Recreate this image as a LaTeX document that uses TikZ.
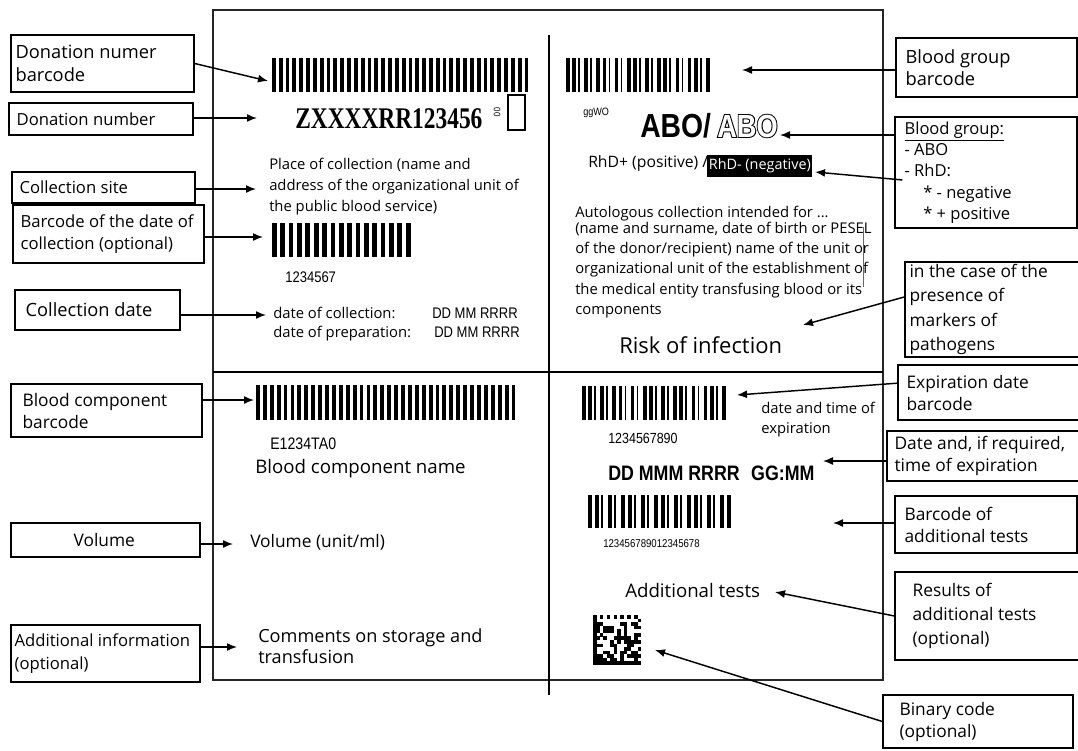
\documentclass[tikz,border=0pt]{standalone}
\usepackage{fontspec}
\setmainfont{Open Sans}
\newfontfamily\narrowf[FakeStretch=0.85]{Liberation Sans}
\newfontfamily\narrowheavy[FakeStretch=0.85,FakeBold=6]{Liberation Sans}
\newfontfamily\serifn[FakeStretch=0.78]{Liberation Serif}
\usetikzlibrary{arrows.meta}

\newcommand\fs[2]{\fontsize{#1}{#2}\selectfont}

% label box: name, x0, y0, x1, y1, left padding, text options, text  (pixel units)
\newcommand\lbox[8]{%
  \pgfmathsetmacro\lbw{(#4-#2)*0.75}%
  \pgfmathsetmacro\lbh{(#5-#3)*0.75}%
  \pgfmathsetmacro\lbp{#6*0.75}%
  \node[lblframe, minimum width=\lbw pt, minimum height=\lbh pt] (#1) at ({(#2+#4)/2},{(#3+#5)/2}) {};
  \node[lbltext, #7] (#1t) at ([xshift=\lbp pt]#1.west) {#8};}

% barcode: x0, y0, x1, y1, number of bars, varied (0/1)
\newcommand\mybarcode[6]{%
  \pgfmathsetmacro\bcpitch{(#3-#1)/(#5-0.5)}%
  \foreach \i in {1,...,#5}{%
    \pgfmathsetmacro\bcw{\bcpitch*(#6==1 ? (mod(\i*7,5)<2 ? 0.28 : 0.62) : 0.56)}%
    \fill ({#1+(\i-1)*\bcpitch},#2) rectangle ++(\bcw,{#4-#2});%
  }}

\begin{document}
\begin{tikzpicture}[x=0.75pt,y=-0.75pt,
  lblframe/.style={draw, line width=1pt, inner sep=0pt},
  lbltext/.style={anchor=west, align=left, inner sep=0pt, font=\fs{13}{16.5}},
  arr/.style={-{Latex[length=7.5pt,width=6pt]}, line width=1.1pt},
  t/.style={anchor=base west, inner sep=0pt}]

\fill[white] (0,0) rectangle (1078,750);
\useasboundingbox (0,0) rectangle (1078,750);

% ---------- the label card ----------
\draw[line width=1.4pt, draw=black!85] (213,10) rectangle (883,680);
\draw[line width=1.1pt] (213,372) -- (883,372);
\draw[line width=1.1pt] (549,35) -- (549,695);

% ---------- top left quadrant ----------
\mybarcode{272}{58}{528}{92}{38}{0}
\node[t, font=\serifn\bfseries\fs{22.5}{27}] (dn) at (295,128) {ZXXXXRR123456};
\node[inner sep=0pt, font=\narrowf\fs{7}{8}, rotate=-90] (dn0) at (497,112) {00};
\node[draw, line width=0.9pt, inner sep=0pt, minimum width=12.75pt, minimum height=26.25pt] (dnbox) at (516.5,112.5) {};
\node[t, font=\fs{11.1}{13}] (pc1) at (269,169) {Place of collection (name and};
\node[t, font=\fs{11.1}{13}] (pc2) at (269,190) {address of the organizational unit of};
\node[t, font=\fs{11.1}{13}] (pc3) at (269,211) {the public blood service)};
\mybarcode{272}{223}{410}{257}{17}{0}
\node[t, font=\narrowf\fs{11.5}{13}] (c7) at (285,282) {1234567};
\node[t, font=\fs{11.1}{13}] (dc) at (273,318) {date of collection:};
\node[t, font=\fs{11.1}{13}] (dp) at (273,337) {date of preparation:};
\node[t, font=\narrowf\fs{11.5}{13}] (dc2) at (432,318) {DD MM RRRR};
\node[t, font=\narrowf\fs{11.5}{13}] (dp2) at (434,337) {DD MM RRRR};

% ---------- top right quadrant ----------
\mybarcode{566}{58}{709}{92}{24}{1}
\node[t, font=\narrowf\fs{8}{9}] (gg) at (583,115) {ggWO};
\node[t, font=\narrowf\bfseries\fs{25}{30}] (abo1) at (640,137) {ABO/};
\node[t, font=\narrowheavy\bfseries\fs{24}{29}] (abo2) at (717,137) {ABO};
\node[t, font=\narrowf\bfseries\fs{24}{29}, text=white] (abo3) at (abo2.base west) {ABO};
\node[t, font=\fs{11.8}{14}] (rhp) at (588,167) {RhD+ (positive) /};
\node[fill=black, text=white, inner xsep=1.2pt, inner ysep=0pt, minimum height=16.5pt,
      anchor=west, font=\fs{10.8}{13}] (rhn) at (707,166) {RhD- (negative)};
\node[t, font=\fs{11.1}{13}] (au1) at (575,217) {Autologous collection intended for ...};
\node[t, font=\fs{11.1}{13}] (au2) at (575,233) {(name and surname, date of birth or PESEL};
\node[t, font=\fs{11.1}{13}] (au3) at (575,253) {of the donor/recipient) name of the unit or};
\node[t, font=\fs{11.1}{13}] (au4) at (575,273) {organizational unit of the establishment of};
\node[t, font=\fs{11.1}{13}] (au5) at (575,294) {the medical entity transfusing blood or its};
\node[t, font=\fs{11.1}{13}] (au6) at (575,314) {components};
\draw[line width=0.6pt, black!60] (863,227) -- (863,287);
\node[t, font=\fs{16.5}{20}] (risk) at (619,353) {Risk of infection};

% ---------- bottom left quadrant ----------
\mybarcode{256}{385}{515}{420}{38}{0}
\node[t, font=\narrowf\fs{12.5}{14}] (e12) at (270,449) {E1234TA0};
\node[t, font=\fs{14}{17}] (bcn) at (255,473) {Blood component name};
\node[t, font=\fs{13}{16}] (vol) at (250,547) {Volume (unit/ml)};
\node[t, font=\fs{13.6}{16}] (cm1) at (258,642) {Comments on storage and};
\node[t, font=\fs{13.6}{16}] (cm2) at (258,663) {transfusion};

% ---------- bottom right quadrant ----------
\mybarcode{582}{386}{725}{420}{24}{1}
\node[t, font=\narrowf\fs{11}{13}] (n10) at (608,443) {1234567890};
\node[t, font=\fs{11.1}{13}] (dt1) at (761,413) {date and time of};
\node[t, font=\fs{11.1}{13}] (dt2) at (761,433) {expiration};
\node[t, font=\narrowf\bfseries\fs{15.7}{19}] (ddm) at (608,480) {DD MMM RRRR\hspace{0.55em}GG:MM};
\mybarcode{588}{495}{730}{528}{22}{1}
\node[t, font=\narrowf\fs{8.5}{10}] (n18) at (603,547) {123456789012345678};
\node[t, font=\fs{14}{17}] (adt) at (625,597) {Additional tests};
% 2D code
\pgfmathsetseed{4242}
\foreach \i in {0,...,13}{\foreach \j in {0,...,13}{%
  \pgfmathsetmacro\on{(\i==0 || \j==13) ? 1 : ((\j==0) ? (mod(\i,2)==0 ? 1 : 0) : ((\i==13) ? (mod(\j,2)==1 ? 1 : 0) : (rnd<0.5 ? 1 : 0)))}%
  \ifdim\on pt>0.5pt \fill ({593+\i*3.43},{615+\j*3.57}) rectangle ++(3.6,3.75);\fi
}}

% ---------- left labels ----------
\lbox{L1}{11}{35}{194}{92}{5}{font=\fs{13.7}{17.3}}{Donation numer\\barcode}
\lbox{L2}{9}{103}{193}{135}{8}{font=\fs{12.5}{16}}{Donation number}
\lbox{L3}{12}{172}{195}{203}{8}{font=\fs{12.5}{16}}{Collection site}
\lbox{L4}{13}{205}{204}{263}{8}{font=\fs{12.5}{16.5}}{Barcode of the date of\\collection (optional)}
\lbox{L5}{15}{290}{180}{330}{11}{font=\fs{13.7}{17}}{Collection date}
\lbox{L6}{11}{384}{202}{437}{12}{}{Blood component\\barcode}
\lbox{L7}{11}{523}{200}{557}{63}{}{Volume}
\lbox{L8}{11}{625}{200}{682}{4}{font=\fs{12.5}{17}}{Additional information\\(optional)}

% ---------- right labels ----------
\lbox{R1}{896}{38}{1077}{97}{10}{font=\fs{13.7}{16.5}}{Blood group\\barcode}
\lbox{R2}{895}{117}{1077}{228}{10}{font=\fs{12.4}{16}}{\underline{Blood group:}\\- ABO\\- RhD:\\\hspace*{14pt}* - negative\\\hspace*{14pt}* + positive}
\lbox{R3}{905}{262}{1082}{357}{5}{font=\fs{13}{18.4}}{in the case of the\\presence of\\markers of\\pathogens}
\lbox{R4}{898}{365}{1082}{420}{9}{}{Expiration date\\barcode}
\lbox{R5}{887}{431}{1082}{481}{8}{}{Date and, if required,\\time of expiration}
\lbox{R6}{895}{496}{1077}{553}{10}{}{Barcode of\\additional tests}
\lbox{R7}{895}{572}{1082}{660}{18}{font=\fs{13}{18}}{Results of\\additional tests\\(optional)}
\lbox{R8}{883}{695}{1073}{748}{17}{}{Binary code\\(optional)}

% ---------- arrow targets ----------
\coordinate (t1) at (268,81);
\coordinate (t2) at (257,118);
\coordinate (t3) at (256,189);
\coordinate (t4) at (263,237);
\coordinate (t5) at (266,315);
\coordinate (t6) at (254,400);
\coordinate (t7) at (233,544);
\coordinate (t8) at (237,647);
\coordinate (r1) at (742,70);
\coordinate (r2) at (780,135);
\coordinate (r3) at (815,172);
\coordinate (r4) at (803,325);
\coordinate (r5) at (737,395);
\coordinate (r6) at (823,461);
\coordinate (r7) at (833,523);
\coordinate (r8) at (775,592);
\coordinate (r9) at (655,650);

% ---------- arrows ----------
\draw[arr] (L1.east) -- (t1);
\draw[arr] (L2.east |- t2) -- (t2);
\draw[arr] (L3.east |- t3) -- (t3);
\draw[arr] (L4.east |- t4) -- (t4);
\draw[arr] (L5.east |- t5) -- (t5);
\draw[arr] (L6.east |- t6) -- (t6);
\draw[arr] (L7.east |- t7) -- (t7);
\draw[arr] (L8.east |- t8) -- (t8);

\draw[arr] (R1.west |- r1) -- (r1);
\draw[arr] (R2.west |- r2) -- (r2);
\draw[arr] ([xshift=6pt,yshift=-5.6pt]R2.west) -- (r3);
\draw[arr] ([yshift=9.4pt]R3.west) -- (r4);
\draw[arr] ([yshift=7pt]R4.west) -- (r5);
\draw[arr] (R5.west |- r6) -- (r6);
\draw[arr] (R6.west |- r7) -- (r7);
\draw[arr] (R7.west) -- (r8);
\draw[arr] (R8.west) -- (r9);
\end{tikzpicture}
\end{document}
